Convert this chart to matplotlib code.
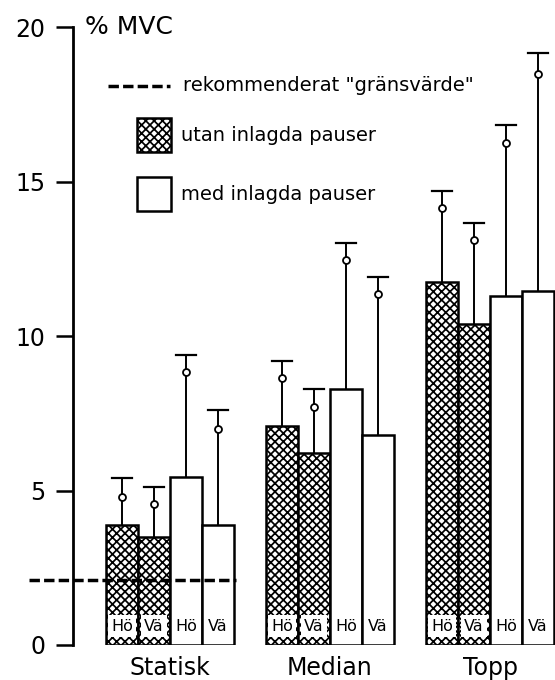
import matplotlib.pyplot as plt
import numpy as np

plt.rcParams['font.family'] = ['DejaVu Sans']
plt.rcParams['hatch.linewidth'] = 1.25

groups = ['Statisk', 'Median', 'Topp']
sides = ['Hö', 'Vä', 'Hö', 'Vä']

# utan inlagda pauser (Hö, Vä), med inlagda pauser (Hö, Vä)
utan = [[3.9, 3.5], [7.1, 6.2], [11.75, 10.4]]
med = [[5.45, 3.9], [8.3, 6.8], [11.3, 11.45]]
utan_top = [[5.4, 5.1], [9.2, 8.3], [14.7, 13.65]]
med_top = [[9.4, 7.6], [13.0, 11.9], [16.85, 19.15]]
utan_mark = [[4.8, 4.55], [8.65, 7.7], [14.15, 13.1]]
med_mark = [[8.85, 7.0], [12.45, 11.35], [16.25, 18.5]]
grans = 2.1

fig = plt.figure(figsize=(5.55, 6.8), dpi=100)
ax = fig.add_axes([0.1315, 0.0515, 0.8685, 0.9085])

w = 0.2
offs = [-0.3, -0.1, 0.1, 0.3]
for g in range(3):
    heights = utan[g] + med[g]
    tops = utan_top[g] + med_top[g]
    marks = utan_mark[g] + med_mark[g]
    for i in range(4):
        x = g + offs[i]
        hatched = i < 2
        ax.bar(x, heights[i], width=w, facecolor='white', edgecolor='black',
               linewidth=1.8, hatch='xxxx' if hatched else None, zorder=2)
        ax.plot([x, x], [heights[i], tops[i]], color='black', lw=1.4, zorder=3)
        ax.plot([x - 0.065, x + 0.065], [tops[i], tops[i]], color='black', lw=1.6, zorder=3)
        ax.plot(x, marks[i], 'o', ms=5, mfc='white', mec='black', mew=1.3, zorder=4)
        bb = dict(facecolor='white', edgecolor='none', pad=2.5) if hatched else None
        ax.text(x, 0.6, sides[i], ha='center', va='center', fontsize=11.5,
                bbox=bb, zorder=5)

# rekommenderat gränsvärde
ax.plot([-0.88, 0.41], [grans, grans], color='black', lw=2.5, ls=(0, (3, 1.2)),
        clip_on=False, zorder=6)

# legend
ax.plot([-0.39, -0.0], [18.1, 18.1], color='black', lw=2.5, ls=(0, (3, 1.2)),
        clip_on=False)
ax.text(0.08, 18.1, 'rekommenderat "gränsvärde"', fontsize=14, va='center')
ax.bar(-0.1, 1.1, width=0.21, bottom=15.95, facecolor='white', edgecolor='black',
       linewidth=1.8, hatch='xxxx')
ax.text(0.07, 16.5, 'utan inlagda pauser', fontsize=14, va='center')
ax.bar(-0.1, 1.1, width=0.21, bottom=14.05, facecolor='white', edgecolor='black',
       linewidth=1.8)
ax.text(0.07, 14.6, 'med inlagda pauser', fontsize=14, va='center')

ax.text(-0.53, 20, '% MVC', fontsize=18, va='center')

ax.set_xlim(-0.606, 2.406)
ax.set_ylim(0, 20)
ax.set_yticks([0, 5, 10, 15, 20])
ax.set_xticks(range(3))
ax.set_xticklabels(groups, fontsize=17)
ax.tick_params(axis='x', length=0, pad=8)
ax.tick_params(axis='y', length=12, width=1.8, labelsize=17, pad=8)
for s in ['top', 'right', 'bottom']:
    ax.spines[s].set_visible(False)
ax.spines['left'].set_linewidth(2)

fig.savefig('out.png', dpi=100)
